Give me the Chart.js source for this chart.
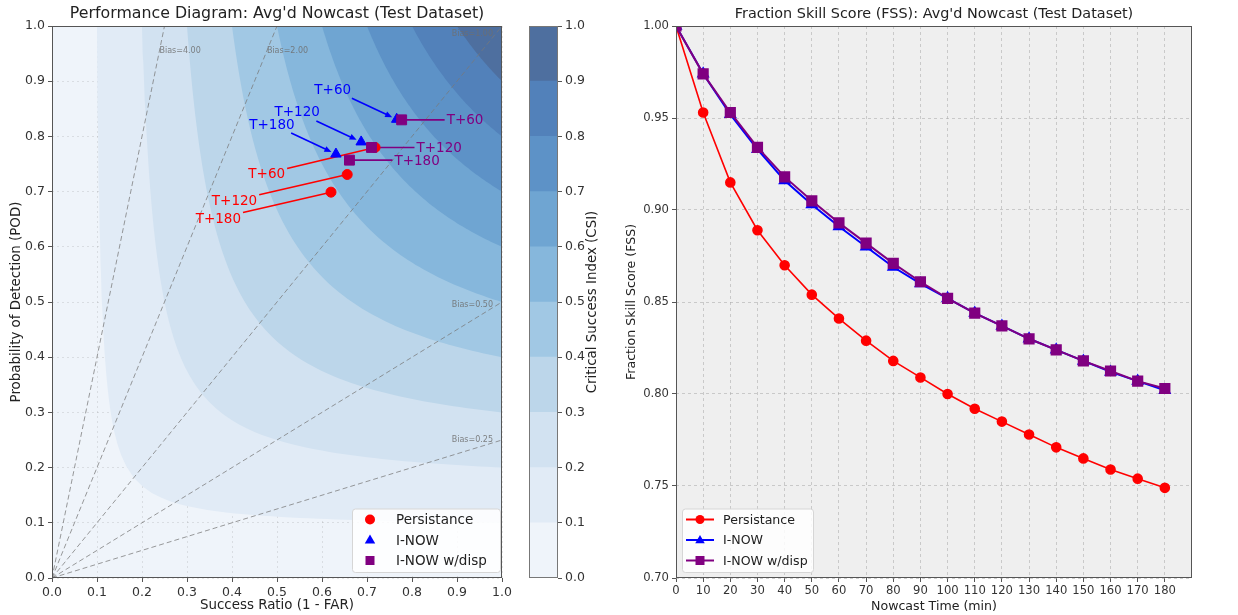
<!DOCTYPE html>
<html>
<head>
<meta charset="utf-8">
<title>Performance Diagram and FSS</title>
<script src="https://cdn.jsdelivr.net/npm/chart.js@4.4.0/dist/chart.umd.min.js"></script>
<style>
  html, body { margin: 0; padding: 0; background: #fff; }
  body { width: 1238px; height: 615px; position: relative; overflow: hidden; }
  .box { position: absolute; top: 0; height: 615px; }
  #perf-box { left: 0; width: 520px; }
  #cbar-box { left: 515px; width: 110px; }
  #fss-box { left: 620px; width: 618px; }
</style>
</head>
<body>
<div class="box" id="perf-box"><canvas id="perf-chart"></canvas></div>
<div class="box" id="cbar-box"><canvas id="cbar-chart"></canvas></div>
<div class="box" id="fss-box"><canvas id="fss-chart"></canvas></div>
<script>
// ---- performance diagram points (success ratio, POD) for T+60, T+120, T+180
const leadLabels = ['T+60', 'T+120', 'T+180'];
const persSR = [0.718, 0.656, 0.620];
const persPOD = [0.780, 0.731, 0.699];
const inowSR = [0.766, 0.687, 0.631];
const inowPOD = [0.831, 0.790, 0.768];
const dispSR = [0.777, 0.710, 0.661];
const dispPOD = [0.830, 0.780, 0.757];

// CSI contour levels and their fill colours
const csiLevels = [0.0, 0.1, 0.2, 0.3, 0.4, 0.5, 0.6, 0.7, 0.8, 0.9, 1.0];
const csiColors = ['#eff4fa', '#e1ebf6', '#d2e2f1', '#bcd6ea', '#a1c8e4', '#86b7dc',
                   '#6fa5d2', '#5d92c7', '#5281ba', '#4e6f9f'];
const biasValues = [0.25, 0.5, 1, 2, 4];

// ---- FSS vs nowcast time
const nowcastTimes = [0, 10, 20, 30, 40, 50, 60, 70, 80, 90, 100, 110, 120, 130, 140, 150, 160, 170, 180];
const fssPersistance = [1.000, 0.953, 0.915, 0.889, 0.870, 0.854, 0.841, 0.829, 0.818, 0.809,
                        0.800, 0.792, 0.785, 0.778, 0.771, 0.765, 0.759, 0.754, 0.749];
const fssInow = [1.000, 0.974, 0.952, 0.933, 0.916, 0.903, 0.891, 0.880, 0.869, 0.860,
                 0.852, 0.844, 0.837, 0.830, 0.824, 0.818, 0.812, 0.807, 0.802];
const fssInowDisp = [1.000, 0.974, 0.953, 0.934, 0.918, 0.905, 0.893, 0.882, 0.871, 0.861,
                     0.852, 0.844, 0.837, 0.830, 0.824, 0.818, 0.8125, 0.807, 0.803];

const FONT = '"DejaVu Sans", "Liberation Sans", sans-serif';
Chart.defaults.font.family = FONT;
Chart.defaults.color = '#333';
Chart.defaults.animation = false;

// isoline of constant CSI: POD = 1 / (1/c + 1 - 1/SR)
function csiCurve(c) {
  const pts = [];
  const s = 2 * c / (1 + c);
  const n = 40;
  for (let i = 0; i <= n; i++) {
    const pod = 1 - (1 - s) * i / n;
    pts.push({ x: 1 / (1 / c + 1 - 1 / pod), y: pod });
  }
  for (let i = 1; i <= n; i++) {
    const sr = s + (1 - s) * i / n;
    pts.push({ x: sr, y: 1 / (1 / c + 1 - 1 / sr) });
  }
  return pts;
}

function toPoints(xs, ys) {
  return xs.map((x, i) => ({ x: x, y: ys[i] }));
}

function drawMarker(ctx, style, x, y, r) {
  ctx.beginPath();
  if (style === 'circle') {
    ctx.arc(x, y, r, 0, Math.PI * 2);
  } else if (style === 'triangle') {
    ctx.moveTo(x, y - r);
    ctx.lineTo(x + r * 0.95, y + r * 0.65);
    ctx.lineTo(x - r * 0.95, y + r * 0.65);
    ctx.closePath();
  } else {
    ctx.rect(x - r, y - r, r * 2, r * 2);
  }
  ctx.fill();
}

// legend drawn inside the plot area
function drawLegend(chart, corner, withLine, fontSize) {
  const ctx = chart.ctx;
  const area = chart.chartArea;
  const items = chart.data.datasets.filter(d => d.legendStyle);
  const rowH = 20.5, w = withLine ? 131 : 148, h = items.length * rowH + 2;
  const x0 = corner === 'right' ? area.right - 2 - w : area.left + 6;
  const y0 = area.bottom - 6 - h;
  ctx.save();
  ctx.fillStyle = 'rgba(255,255,255,0.85)';
  ctx.strokeStyle = '#d6d6d6';
  ctx.lineWidth = 1;
  ctx.beginPath();
  ctx.roundRect(x0 + 0.5, y0 + 0.5, w, h, 3);
  ctx.fill();
  ctx.stroke();
  ctx.font = fontSize + 'px ' + FONT;
  ctx.textBaseline = 'middle';
  items.forEach((d, i) => {
    const cy = y0 + 11 + i * rowH;
    const mx = x0 + 18;
    if (withLine) {
      ctx.strokeStyle = d.borderColor;
      ctx.lineWidth = 2;
      ctx.beginPath();
      ctx.moveTo(x0 + 4, cy);
      ctx.lineTo(x0 + 32, cy);
      ctx.stroke();
    }
    ctx.fillStyle = d.backgroundColor;
    drawMarker(ctx, d.legendStyle, mx, cy, d.legendSize);
    ctx.fillStyle = '#222';
    ctx.fillText(d.label, withLine ? x0 + 41 : x0 + 44, cy + 1);
  });
  ctx.restore();
}

function drawFrame(chart, color) {
  const a = chart.chartArea;
  const ctx = chart.ctx;
  ctx.save();
  ctx.strokeStyle = color;
  ctx.lineWidth = 1;
  ctx.strokeRect(Math.round(a.left) + 0.5, Math.round(a.top) + 0.5,
                 Math.round(a.right - a.left) - 1, Math.round(a.bottom - a.top) - 1);
  ctx.restore();
}

// ================= performance diagram =================
const perfAnnotations = [
  { label: 'Persistance', dx: -90, dy: 26, align: 'right', arrow: false },
  { label: 'I-NOW', dx: -64, dy: -30, align: 'center', arrow: true },
  { label: 'I-NOW w/disp', dx: 45, dy: 0, align: 'left', arrow: false }
];

const perfPlugin = {
  id: 'perfExtras',
  beforeDraw(chart) {
    const a = chart.chartArea;
    const ctx = chart.ctx;
    ctx.save();
    ctx.fillStyle = csiColors[0];
    ctx.fillRect(a.left, a.top, a.right - a.left, a.bottom - a.top);
    ctx.restore();
  },
  beforeDatasetDraw(chart, args) {
    if (chart.data.datasets[args.index].label !== 'Persistance') return;
    const ctx = chart.ctx;
    ctx.save();
    ctx.font = '13.5px ' + FONT;
    perfAnnotations.forEach(an => {
      const idx = chart.data.datasets.findIndex(d => d.label === an.label);
      const ds = chart.data.datasets[idx];
      chart.getDatasetMeta(idx).data.forEach((pt, i) => {
        const w = ctx.measureText(leadLabels[i]).width;
        const ax = pt.x + an.dx, ay = pt.y + an.dy;
        const cx = an.align === 'left' ? ax + w / 2 : an.align === 'right' ? ax - w / 2 : ax;
        const vx = pt.x - cx, vy = pt.y - ay;
        const t = Math.min((w / 2 + 2) / Math.max(Math.abs(vx), 1e-6), 9 / Math.max(Math.abs(vy), 1e-6));
        const sx = cx + vx * t, sy = ay + vy * t;
        const len = Math.hypot(pt.x - sx, pt.y - sy);
        const ux = (pt.x - sx) / len, uy = (pt.y - sy) / len;
        const shrink = an.arrow ? 5 : 0;
        const ex = pt.x - ux * shrink, ey = pt.y - uy * shrink;
        ctx.strokeStyle = ds.borderColor;
        ctx.fillStyle = ds.borderColor;
        ctx.lineWidth = 1.6;
        ctx.beginPath();
        ctx.moveTo(sx, sy);
        ctx.lineTo(an.arrow ? ex - ux * 5 : ex, an.arrow ? ey - uy * 5 : ey);
        ctx.stroke();
        if (an.arrow) {
          ctx.beginPath();
          ctx.moveTo(ex, ey);
          ctx.lineTo(ex - ux * 7 - uy * 3, ey - uy * 7 + ux * 3);
          ctx.lineTo(ex - ux * 7 + uy * 3, ey - uy * 7 - ux * 3);
          ctx.closePath();
          ctx.fill();
        }
      });
    });
    ctx.restore();
  },
  afterDatasetsDraw(chart) {
    const ctx = chart.ctx;
    const xs = chart.scales.x, ys = chart.scales.y;
    ctx.save();
    // bias labels
    ctx.font = '8px ' + FONT;
    ctx.fillStyle = 'rgba(110,110,110,0.85)';
    ctx.textBaseline = 'middle';
    biasValues.forEach(b => {
      const txt = 'Bias=' + b.toFixed(2);
      if (b > 1) {
        ctx.textAlign = 'left';
        ctx.fillText(txt, xs.getPixelForValue(0.955 / b), ys.getPixelForValue(0.955));
      } else {
        ctx.textAlign = 'right';
        ctx.fillText(txt, xs.getPixelForValue(0.98), ys.getPixelForValue(0.98 * b) - 3);
      }
    });
    // annotation texts
    ctx.font = '13.5px ' + FONT;
    perfAnnotations.forEach(an => {
      const idx = chart.data.datasets.findIndex(d => d.label === an.label);
      const ds = chart.data.datasets[idx];
      ctx.fillStyle = ds.borderColor;
      ctx.textAlign = an.align;
      chart.getDatasetMeta(idx).data.forEach((pt, i) => {
        ctx.fillText(leadLabels[i], pt.x + an.dx, pt.y + an.dy + 1);
      });
    });
    ctx.restore();
  },
  afterDraw(chart) {
    drawFrame(chart, '#555');
    drawLegend(chart, 'right', false, 13.5);
  }
};

const perfDatasets = [];
csiLevels.slice(1, -1).forEach((c, i) => {
  perfDatasets.push({
    type: 'line',
    data: csiCurve(c),
    fill: 'end',
    backgroundColor: csiColors[i + 1],
    borderColor: 'transparent',
    borderWidth: 0,
    pointRadius: 0,
    tension: 0,
    order: 60 - i
  });
});
biasValues.forEach(b => {
  perfDatasets.push({
    type: 'line',
    data: [{ x: 0, y: 0 }, { x: Math.min(1, 1 / b), y: Math.min(1, b) }],
    borderColor: 'rgba(120,120,120,0.75)',
    borderWidth: 1,
    borderDash: [5, 3],
    pointRadius: 0,
    fill: false,
    order: 20
  });
});
perfDatasets.push(
  { label: 'Persistance', data: toPoints(persSR, persPOD), pointStyle: 'circle', pointRadius: 5,
    backgroundColor: '#ff0000', borderColor: '#ff0000', legendStyle: 'circle', legendSize: 5, order: 3 },
  { label: 'I-NOW', data: toPoints(inowSR, inowPOD), pointStyle: 'triangle', pointRadius: 6,
    backgroundColor: '#0000ff', borderColor: '#0000ff', legendStyle: 'triangle', legendSize: 5.5, order: 2 },
  { label: 'I-NOW w/disp', data: toPoints(dispSR, dispPOD), pointStyle: 'rect', pointRadius: 7,
    backgroundColor: '#800080', borderColor: '#800080', legendStyle: 'rect', legendSize: 4.5, order: 1 }
);

function unitAxis(title, titlePadding) {
  return {
    type: 'linear', min: 0, max: 1,
    ticks: { stepSize: 0.1, font: { size: 12.5 }, color: '#333', padding: 3,
             maxRotation: 0, callback: v => v.toFixed(1) },
    grid: { color: 'rgba(140,140,140,0.22)', lineWidth: 1, tickLength: 4, tickColor: '#555' },
    border: { display: false, dash: [2, 3] },
    title: { display: true, text: title, font: { size: 13.4 }, color: '#222', padding: titlePadding }
  };
}

const perfX = unitAxis('Success Ratio (1 - FAR)', { top: 0, bottom: 1 });
perfX.afterFit = s => { s.height = 37; };
const perfY = unitAxis('Probability of Detection (POD)', { top: 8, bottom: 0 });
perfY.afterFit = s => { s.width = 52; };

new Chart(document.getElementById('perf-chart'), {
  type: 'scatter',
  data: { datasets: perfDatasets },
  options: {
    responsive: true,
    maintainAspectRatio: false,
    layout: { padding: { left: 0, right: 18, top: 0, bottom: 0 } },
    scales: { x: perfX, y: perfY },
    plugins: {
      legend: { display: false },
      tooltip: { enabled: false },
      title: { display: true, fullSize: false, text: "Performance Diagram: Avg'd Nowcast (Test Dataset)",
               font: { size: 15.8, weight: 'normal', lineHeight: 1.14 }, color: '#222',
               padding: { top: 5, bottom: 3 } }
    }
  },
  plugins: [perfPlugin]
});

// ================= CSI colour bar =================
const cbarPlugin = {
  id: 'cbarExtras',
  afterDraw(chart) {
    drawFrame(chart, '#777');
    const a = chart.chartArea;
    const ctx = chart.ctx;
    ctx.save();
    ctx.translate(78, (a.top + a.bottom) / 2);
    ctx.rotate(-Math.PI / 2);
    ctx.font = '13.4px ' + FONT;
    ctx.fillStyle = '#222';
    ctx.textAlign = 'center';
    ctx.textBaseline = 'middle';
    ctx.fillText('Critical Success Index (CSI)', 0, 0);
    ctx.restore();
  }
};

new Chart(document.getElementById('cbar-chart'), {
  type: 'bar',
  data: {
    labels: ['CSI'],
    datasets: csiColors.map((col, i) => ({
      data: [csiLevels[i + 1] - csiLevels[i]],
      backgroundColor: col,
      borderWidth: 0,
      barPercentage: 1,
      categoryPercentage: 1
    }))
  },
  options: {
    responsive: true,
    maintainAspectRatio: false,
    layout: { padding: { left: 14, right: 0, top: 26, bottom: 37 } },
    scales: {
      x: { stacked: true, display: false },
      y: {
        stacked: true, position: 'right', min: 0, max: 1,
        ticks: { stepSize: 0.1, font: { size: 12.5 }, color: '#333', padding: 3,
                 callback: v => v.toFixed(1) },
        grid: { display: true, drawOnChartArea: false, tickLength: 4, tickColor: '#555' },
        border: { display: false },
        afterFit: s => { s.width = 67; }
      }
    },
    plugins: { legend: { display: false }, tooltip: { enabled: false } }
  },
  plugins: [cbarPlugin]
});

// ================= FSS chart =================
const fssPlugin = {
  id: 'fssExtras',
  beforeDraw(chart) {
    const a = chart.chartArea;
    const ctx = chart.ctx;
    ctx.save();
    ctx.fillStyle = '#efefef';
    ctx.fillRect(a.left, a.top, a.right - a.left, a.bottom - a.top);
    ctx.restore();
  },
  afterDraw(chart) {
    drawFrame(chart, '#555');
    drawLegend(chart, 'left', true, 12.6);
  }
};

new Chart(document.getElementById('fss-chart'), {
  type: 'line',
  data: {
    datasets: [
      { label: 'Persistance', data: toPoints(nowcastTimes, fssPersistance), borderColor: '#ff0000',
        backgroundColor: '#ff0000', borderWidth: 1.6, pointStyle: 'circle', pointRadius: 4.5,
        legendStyle: 'circle', legendSize: 4.5, order: 3 },
      { label: 'I-NOW', data: toPoints(nowcastTimes, fssInow), borderColor: '#0000ff',
        backgroundColor: '#0000ff', borderWidth: 2, pointStyle: 'triangle', pointRadius: 5.5,
        legendStyle: 'triangle', legendSize: 5, order: 2 },
      { label: 'I-NOW w/disp', data: toPoints(nowcastTimes, fssInowDisp), borderColor: '#800080',
        backgroundColor: '#800080', borderWidth: 2, pointStyle: 'rect', pointRadius: 6.5,
        legendStyle: 'rect', legendSize: 4.5, order: 1 }
    ]
  },
  options: {
    responsive: true,
    maintainAspectRatio: false,
    layout: { padding: { left: 0, right: 46, top: 0, bottom: 0 } },
    scales: {
      x: {
        type: 'linear', min: 0, max: 190,
        ticks: { stepSize: 10, font: { size: 11.6 }, color: '#333', padding: 2,
                 maxRotation: 0, minRotation: 0, autoSkip: false },
        afterBuildTicks: s => { s.ticks = s.ticks.filter(t => t.value <= 180); },
        grid: { color: 'rgba(170,170,170,0.55)', tickLength: 4, tickColor: '#555' },
        border: { display: false, dash: [3, 3] },
        title: { display: true, text: 'Nowcast Time (min)', font: { size: 12.6 }, color: '#222',
                 padding: { top: 0, bottom: 1 } },
        afterFit: s => { s.height = 37; }
      },
      y: {
        type: 'linear', min: 0.7, max: 1.0,
        ticks: { stepSize: 0.05, font: { size: 11.6 }, color: '#333', padding: 3,
                 callback: v => v.toFixed(2) },
        grid: { color: 'rgba(170,170,170,0.55)', tickLength: 4, tickColor: '#555' },
        border: { display: false, dash: [3, 3] },
        title: { display: true, text: 'Fraction Skill Score (FSS)', font: { size: 12.6 }, color: '#222',
                 padding: { top: 4, bottom: 0 } },
        afterFit: s => { s.width = 56; }
      }
    },
    plugins: {
      legend: { display: false },
      tooltip: { enabled: false },
      title: { display: true, fullSize: false, text: "Fraction Skill Score (FSS): Avg'd Nowcast (Test Dataset)",
               font: { size: 14.4, weight: 'normal', lineHeight: 1.25 }, color: '#222',
               padding: { top: 5, bottom: 3 } }
    }
  },
  plugins: [fssPlugin]
});
</script>
</body>
</html>
